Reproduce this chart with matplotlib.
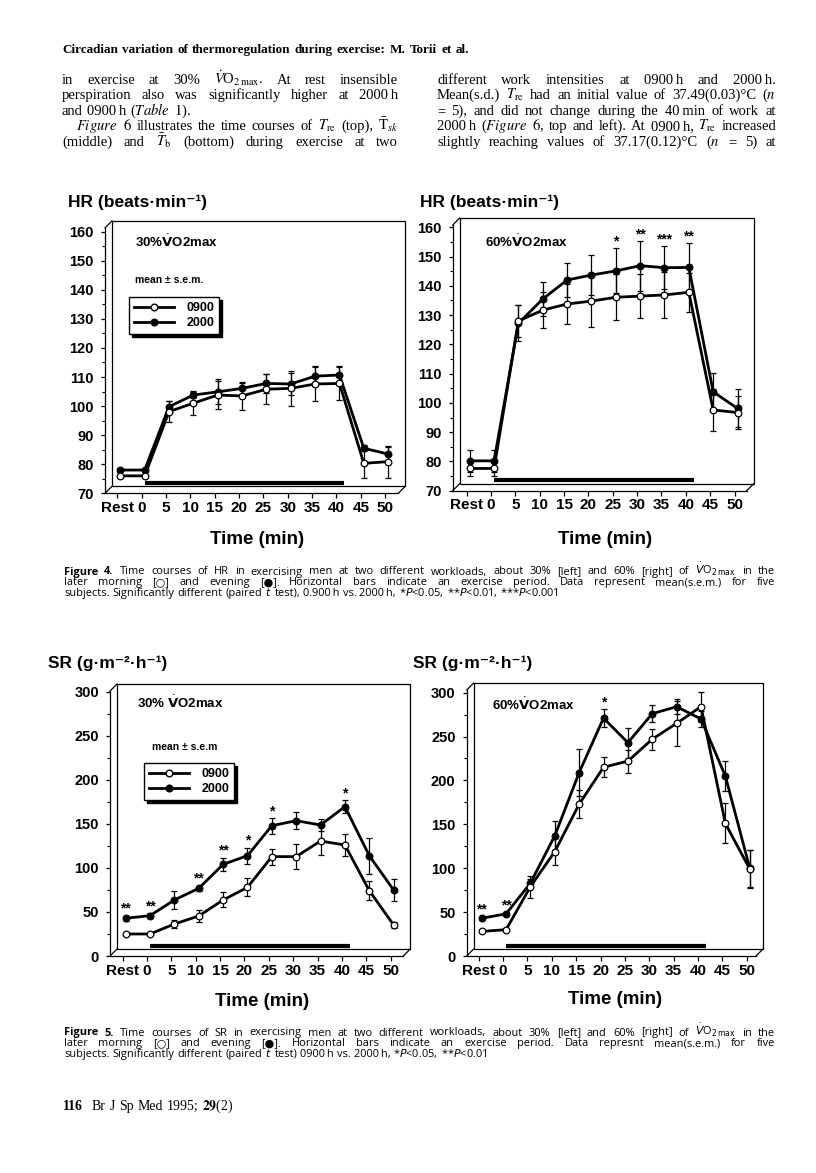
import matplotlib
matplotlib.use("Agg")
import matplotlib.pyplot as plt
from matplotlib.lines import Line2D
from matplotlib.patches import Rectangle
from matplotlib.ticker import MultipleLocator
from matplotlib.transforms import ScaledTranslation
from matplotlib.font_manager import FontProperties

plt.rcParams['font.family'] = ['Liberation Sans', 'DejaVu Sans']

W, H, DPI = 816, 1173, 100
DEPTH = 7  # px offset of the back wall

# ---- values ----
time_min = [-5, 0, 5, 10, 15, 20, 25, 30, 35, 40, 45, 50]
time_labels = ['Rest', '0', '5', '10', '15', '20', '25', '30', '35', '40', '45', '50']
exercise_bar = [0, 41]

# Figure 4 - HR, 30% VO2max
hr30_0900 = [76.0, 76.0, 98.1, 101.0, 103.8, 103.5, 105.8, 106.1, 107.6, 107.8, 80.3, 80.9]
hr30_0900_sem = [0.8, 0.8, 3.5, 4.1, 4.9, 4.9, 5.2, 6.0, 5.8, 5.7, 5.1, 5.5]
hr30_2000 = [78.0, 78.0, 99.8, 103.8, 104.9, 106.1, 107.8, 107.6, 110.3, 110.7, 85.5, 83.5]
hr30_2000_sem = [0.8, 0.8, 2.1, 1.0, 4.3, 1.9, 3.2, 3.9, 3.5, 3.1, 1.0, 2.5]
hr30_sig = [''] * 12

# Figure 4 - HR, 60% VO2max
hr60_0900 = [77.6, 77.6, 128.0, 131.7, 133.8, 134.8, 136.1, 136.5, 136.9, 137.8, 97.6, 96.7]
hr60_0900_sem = [2.6, 2.6, 5.4, 6.2, 6.9, 8.8, 7.8, 7.6, 8.0, 6.6, 7.2, 5.7]
hr60_2000 = [80.2, 80.2, 127.2, 135.5, 142.0, 143.7, 145.1, 146.9, 146.2, 146.3, 103.8, 98.1]
hr60_2000_sem = [3.7, 3.7, 6.2, 5.9, 5.9, 6.8, 7.7, 8.5, 7.4, 8.4, 6.3, 6.5]
hr60_sig = ['', '', '', '', '', '', '*', '**', '***', '**', '', '']

# Figure 5 - SR, 30% VO2max
sr30_0900 = [25.0, 25.0, 36.3, 45.4, 63.6, 77.9, 112.8, 112.8, 130.5, 126.0, 74.2, 35.2]
sr30_0900_sem = [1.5, 1.5, 5.0, 7.0, 8.5, 10.3, 9.0, 14.5, 15.5, 12.0, 11.0, 3.0]
sr30_2000 = [42.8, 45.8, 63.6, 76.8, 104.0, 113.9, 147.9, 153.6, 148.7, 169.5, 113.9, 74.9]
sr30_2000_sem = [3.0, 3.0, 10.5, 3.0, 7.6, 9.0, 9.0, 10.0, 6.5, 7.6, 20.5, 13.0]
sr30_sig = ['**', '**', '', '**', '**', '*', '*', '', '', '*', '', '']

# Figure 5 - SR, 60% VO2max
sr60_0900 = [28.0, 30.0, 79.0, 119.0, 173.0, 215.0, 222.0, 247.0, 265.0, 284.0, 151.0, 99.0]
sr60_0900_sem = [1.5, 1.5, 12.5, 15.2, 16.0, 11.4, 13.0, 12.0, 26.0, 17.1, 22.8, 22.0]
sr60_2000 = [43.0, 48.0, 83.0, 137.0, 209.0, 271.0, 243.0, 276.0, 284.0, 270.0, 205.0, 100.0]
sr60_2000_sem = [2.0, 2.0, 5.0, 16.7, 26.6, 10.3, 17.1, 9.5, 8.7, 9.1, 17.1, 20.9]
sr60_sig = ['**', '**', '', '', '', '*', '', '', '', '', '', '']

legend_labels = ['0900', '2000']

# page text; "~" stands for a thin space, "§" marks a bold word
header = "§Circadian §variation §of §thermoregulation §during §exercise: §M. §Torii §et §al."
body_left = [
    r"in exercise at 30% $\dot{V}$O$_{2\,\mathrm{max}}$. At rest insensible",
    r"perspiration also was significantly higher at 2000~h",
    r"and 0900~h ($\mathit{Table}$ $\mathit{1}$).",
    r"$\mathit{Figure}$ $\mathit{6}$ illustrates the time courses of $T_{\mathrm{re}}$ (top), $\bar{\mathrm{T}}_{sk}$",
    r"(middle) and $\bar{T}_{\mathrm{b}}$ (bottom) during exercise at two",
]
body_right = [
    r"different work intensities at 0900~h and 2000~h.",
    r"Mean(s.d.) $T_{\mathrm{re}}$ had an initial value of 37.49(0.03)°C ($\mathit{n}$",
    r"= 5), and did not change during the 40~min of work at",
    r"2000~h ($\mathit{Figure}$ $\mathit{6}$, top and left). At 0900~h, $T_{\mathrm{re}}$ increased",
    r"slightly reaching values of 37.17(0.12)°C ($\mathit{n}$ = 5) at",
]
caption4 = [
    r"§Figure §4. Time courses of HR in exercising men at two different workloads, about 30% [left] and 60% [right] of $\dot{V}$O$_{2\,\mathrm{max}}$ in the",
    r"later morning [○] and evening [●]. Horizontal bars indicate an exercise period. Data represent mean(s.e.m.) for five",
    r"subjects. Significantly different (paired $t$ test), 0.900~h vs. 2000~h, *$P$<0.05, **$P$<0.01, ***$P$<0.001",
]
caption5 = [
    r"§Figure §5. Time courses of SR in exercising men at two different workloads, about 30% [left] and 60% [right] of $\dot{V}$O$_{2\,\mathrm{max}}$ in the",
    r"later morning [○] and evening [●]. Horizontal bars indicate an exercise period. Data represnt mean(s.e.m.) for five",
    r"subjects. Significantly different (paired $t$ test) 0900~h vs. 2000~h, *$P$<0.05, **$P$<0.01",
]
footer_page = "§116"
footer_ref = r"Br J Sp Med 1995; $\mathbf{29}$(2)"


def fx(x):
    return x / W


def fy(y):
    return 1 - y / H


fig = plt.figure(figsize=(W / DPI, H / DPI), dpi=DPI, facecolor='white')
renderer = fig.canvas.get_renderer()

SERIF = ['Liberation Serif', 'DejaVu Serif']
SANS = ['Open Sans', 'DejaVu Sans']


def set_line(text, x0, x1, y, size, family, math, fill=True):
    # place words one by one so the line is justified like the print
    items = []
    for word in text.split(' '):
        if not word:
            continue
        weight = 'normal'
        if word.startswith('§'):
            word, weight = word[1:], 'bold'
        word = word.replace('~', '\u2009')
        # only use the fallback list where a glyph may be missing
        fam = family if any(ord(c) > 0x2000 for c in word) else family[0]
        items.append(fig.text(fx(x0), fy(y), word, fontsize=size, family=fam,
                              fontweight=weight, math_fontfamily=math,
                              ha='left', va='baseline'))
    widths = [t.get_window_extent(renderer).width for t in items]
    min_gap = size * DPI / 72 * 0.3
    n = len(items)
    if fill and n > 1:
        need = sum(widths) + min_gap * (n - 1)
        if need > x1 - x0:
            scale = (x1 - x0 - min_gap * (n - 1)) / sum(widths)
            for t in items:
                t.set_fontsize(size * scale)
            widths = [t.get_window_extent(renderer).width for t in items]
        gap = (x1 - x0 - sum(widths)) / (n - 1)
    else:
        gap = size * DPI / 72 * 0.27
    x = x0
    for t, wd in zip(items, widths):
        t.set_x(fx(x))
        x += wd + gap
    return x


def draw_panel(box, xlim, ylim, ystep, yminor, am, am_sem, pm, pm_sem, sig):
    left, top, right, bottom = box
    w, h = right - left, bottom - top
    ax = fig.add_axes([fx(left), fy(bottom), w / W, h / H])
    ax.set_xlim(*xlim)
    ax.set_ylim(*ylim)
    ax.patch.set_visible(False)
    ax.spines[['top', 'right']].set_visible(False)
    for s in ('left', 'bottom'):
        ax.spines[s].set_linewidth(0.9)

    # back wall of the pseudo 3-D box
    ox, oy = DEPTH / w, DEPTH / h
    ax.add_patch(Rectangle((ox, oy), 1, 1, transform=ax.transAxes, fill=False,
                           lw=0.9, ec='black', clip_on=False))
    for x0, y0 in [(0, 1), (0, 0), (1, 0)]:
        ax.plot([x0, x0 + ox], [y0, y0 + oy], transform=ax.transAxes,
                color='black', lw=0.9, clip_on=False)

    ax.set_xticks(time_min, time_labels)
    ax.set_yticks(range(int(ylim[0]), int(ylim[1]) + 1, ystep))
    ax.yaxis.set_minor_locator(MultipleLocator(yminor))
    ax.tick_params(axis='x', length=3.6, width=0.9, pad=2, labelsize=11)
    ax.tick_params(axis='y', which='major', length=3, width=0.9, pad=5, labelsize=10.5)
    ax.tick_params(axis='y', which='minor', length=2, width=0.8)
    for lbl in ax.get_xticklabels() + ax.get_yticklabels():
        lbl.set_fontweight('bold')

    shift = ax.transData + ScaledTranslation(3 / DPI, 0, fig.dpi_scale_trans)
    lift = ax.transData + ScaledTranslation(3 / DPI, 10.5 / DPI, fig.dpi_scale_trans)
    ax.plot(exercise_bar, [ylim[0]] * 2, transform=lift, color='black', lw=3,
            solid_capstyle='butt', clip_on=False)

    style = dict(color='black', lw=2.0, ms=4.8, mec='black', mew=0.9,
                 elinewidth=0.9, capsize=2.2, capthick=0.9, transform=shift,
                 clip_on=False)
    ax.errorbar(time_min, pm, yerr=pm_sem, marker='o', mfc='black', zorder=3, **style)
    ax.errorbar(time_min, am, yerr=am_sem, marker='o', mfc='white', zorder=4, **style)

    tops = [max(a + da, p + dp) for a, da, p, dp in zip(am, am_sem, pm, pm_sem)]
    for t, top_val, mark in zip(time_min, tops, sig):
        if mark:
            ax.annotate(mark, (t, top_val), xycoords=shift, xytext=(0, 2),
                        textcoords='offset points', ha='center', va='baseline',
                        fontsize=10, fontweight='bold')
    return ax


def add_legend(ax, x, y):
    handles = [Line2D([], [], color='black', lw=2.0, marker='o', ms=4.8, mfc='white', mec='black'),
               Line2D([], [], color='black', lw=2.0, marker='o', ms=4.8, mfc='black', mec='black')]
    leg = ax.legend(handles, legend_labels, loc='upper left', bbox_to_anchor=(fx(x), fy(y)),
                    bbox_transform=fig.transFigure, borderaxespad=0, fancybox=False,
                    shadow={'color': 'black', 'alpha': 1}, edgecolor='black', framealpha=1,
                    handlelength=3.2, handletextpad=1.0, borderpad=0.4, labelspacing=0.25,
                    prop=FontProperties(family='Liberation Sans', weight='bold', size=9))
    leg.get_frame().set_linewidth(1.0)


def label(x, y, s, size, ha='left'):
    fig.text(fx(x), fy(y), s, fontsize=size, fontweight='bold', ha=ha, va='center',
             math_fontfamily='dejavusans')


# ---- page text ----
set_line(header, 62, 469, 53, 10, SERIF, 'stix')
for i, line in enumerate(body_left):
    x0 = 76 if i == 3 else 62
    set_line(line, x0, 398, 83.5 + i * 15.6, 10.5, SERIF, 'stix', fill=(i != 2))
for i, line in enumerate(body_right):
    set_line(line, 437, 776, 83.5 + i * 15.6, 10.5, SERIF, 'stix')
for i, line in enumerate(caption4):
    set_line(line, 64, 775, 574.5 + i * 10.7, 7.9, SANS, 'dejavusans', fill=(i != 2))
for i, line in enumerate(caption5):
    set_line(line, 64, 775, 1035.5 + i * 10.7, 7.9, SANS, 'dejavusans', fill=(i != 2))
set_line(footer_page, 63, 63, 1110, 10, SERIF, 'stix', fill=False)
set_line(footer_ref, 92, 92, 1110, 10, SERIF, 'stix', fill=False)

# ---- Figure 4 ----
axA = draw_panel((105, 227.9, 398.3, 493.3), (-7.53, 52.7), (70, 161.3), 10, 5,
                 hr30_0900, hr30_0900_sem, hr30_2000, hr30_2000_sem, hr30_sig)
label(68, 202, "HR (beats·min⁻¹)", 12.5)
label(257, 540, "Time (min)", 13.5, ha='center')
label(135, 242, r"30%$\dot{\mathbf{V}}$O2max", 9.5)
label(135, 280, "mean ± s.e.m.", 7.5)
add_legend(axA, 129, 297)

axB = draw_panel((452.7, 225, 746.7, 490.7), (-7.88, 52.5), (70, 160.8), 10, 5,
                 hr60_0900, hr60_0900_sem, hr60_2000, hr60_2000_sem, hr60_sig)
label(420, 202, "HR (beats·min⁻¹)", 12.5)
label(605, 540, "Time (min)", 13.5, ha='center')
label(485, 242, r"60%$\dot{\mathbf{V}}$O2max", 9.5)

# ---- Figure 5 ----
axC = draw_panel((110, 691, 403.3, 956), (-7.6, 52.6), (0, 300.8), 50, 25,
                 sr30_0900, sr30_0900_sem, sr30_2000, sr30_2000_sem, sr30_sig)
label(48, 663, "SR (g·m⁻²·h⁻¹)", 12.5)
label(262, 1001, "Time (min)", 13.5, ha='center')
label(137, 703, r"30% $\dot{\mathbf{V}}$O2max", 9.5)
label(152, 747, "mean ± s.e.m", 7.5)
add_legend(axC, 144, 763)

axD = draw_panel((466.7, 690, 756, 956), (-7.46, 51.9), (0, 303), 50, 25,
                 sr60_0900, sr60_0900_sem, sr60_2000, sr60_2000_sem, sr60_sig)
label(413, 663, "SR (g·m⁻²·h⁻¹)", 12.5)
label(615, 1000, "Time (min)", 13.5, ha='center')
label(492, 705, r"60%$\dot{\mathbf{V}}$O2max", 9.5)

fig.savefig("out.png", dpi=DPI, facecolor='white')
